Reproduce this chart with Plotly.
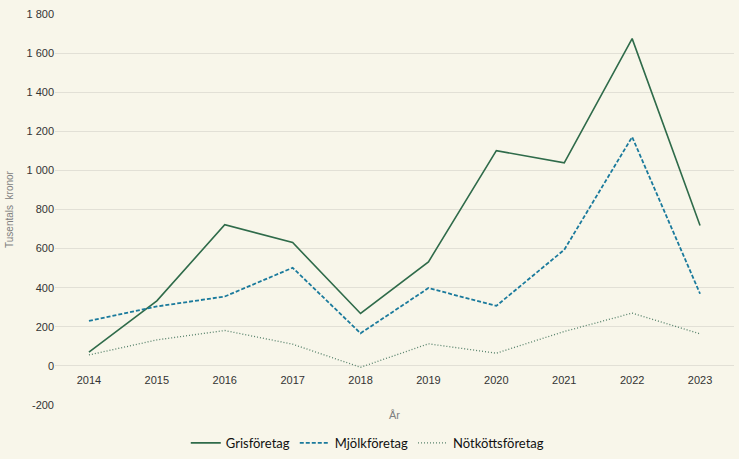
import plotly.graph_objects as go

years = ["2014", "2015", "2016", "2017", "2018", "2019", "2020", "2021", "2022", "2023"]
gris = [70, 333, 722, 631, 268, 532, 1101, 1039, 1674, 718]
mjolk = [230, 304, 355, 502, 167, 398, 307, 594, 1171, 369]
notkott = [56, 133, 181, 111, -7, 113, 65, 176, 270, 164]

ytickvals = [-200, 0, 200, 400, 600, 800, 1000, 1200, 1400, 1600, 1800]
yticktext = ["-200", "0", "200", "400", "600", "800", "1 000", "1 200", "1 400", "1 600", "1 800"]

bg = "#F8F6EA"
fig = go.Figure()
fig.add_trace(go.Scatter(x=years, y=gris, name="Grisföretag", mode="lines",
                         line=dict(color="#2F6B4A", width=1.6)))
fig.add_trace(go.Scatter(x=years, y=mjolk, name="Mjölkföretag", mode="lines",
                         line=dict(color="#1A7A9C", width=1.8, dash="4px,2px")))
fig.add_trace(go.Scatter(x=years, y=notkott, name="Nötköttsföretag", mode="lines",
                         line=dict(color="#55806A", width=1.3, dash="1px,2px")))

fig.update_layout(
    width=739, height=459,
    paper_bgcolor=bg, plot_bgcolor=bg,
    margin=dict(l=55, r=5, t=14, b=54, autoexpand=False),
    font=dict(family="Liberation Sans", color="#404040", size=11),
    showlegend=True,
    legend=dict(orientation="h", x=0.497, xanchor="center", xref="container",
                y=0.035, yanchor="middle", yref="container",
                font=dict(family="Lato", size=13, color="#111111"),
                tracegroupgap=0),
    xaxis=dict(type="category", range=[-0.5, 9.5], showgrid=False, showline=False,
               zeroline=False, anchor="free", position=0.1, ticks="outside", ticklen=4,
               tickcolor="rgba(0,0,0,0)",
               tickfont=dict(size=11, color="#333333")),
    yaxis=dict(range=[-200, 1800], tickmode="array", tickvals=ytickvals, ticktext=yticktext,
               showgrid=True, gridcolor="#E2E0D6", gridwidth=1, zeroline=False,
               showline=False, ticks="", tickfont=dict(size=11, color="#333333"),
               title=dict(text="Tusentals  kronor", font=dict(size=10, color="#808080"), standoff=10)),
    annotations=[dict(text="År", x=0.5, xref="paper", y=-0.005, yref="paper", yanchor="top",
                      showarrow=False, font=dict(size=11, color="#808080"))],
)
fig.write_html("out.html", config={"displayModeBar": False})
with open("out.html", encoding="utf-8") as f:
    html = f.read()
html = html.replace("<body>", '<body style="margin:0;padding:0;overflow:hidden">', 1)
with open("out.html", "w", encoding="utf-8") as f:
    f.write(html)
